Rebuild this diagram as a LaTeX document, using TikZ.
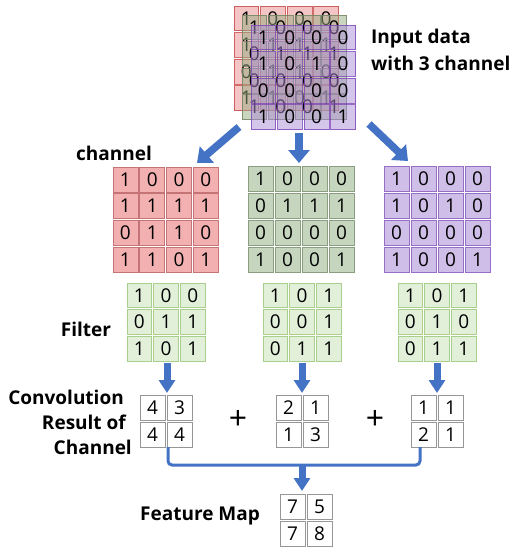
\documentclass[tikz,border=0pt]{standalone}
\usepackage{fontspec}
\setmainfont{Open Sans}
\usetikzlibrary{arrows.meta}
\definecolor{arrowblue}{RGB}{68,114,196}
\definecolor{redfill}{RGB}{242,176,176}
\definecolor{reddraw}{RGB}{196,116,116}
\definecolor{greenfill}{RGB}{198,214,190}
\definecolor{greendraw}{RGB}{138,158,128}
\definecolor{purplefill}{RGB}{206,190,232}
\definecolor{purpledraw}{RGB}{150,110,200}
\definecolor{filterfill}{RGB}{226,240,218}
\definecolor{filterdraw}{RGB}{168,208,140}
\definecolor{convdraw}{RGB}{150,150,150}
\definecolor{stackred}{RGB}{232,140,140}
\definecolor{stackreddraw}{RGB}{200,70,70}
\definecolor{stackgreen}{RGB}{150,172,130}
\definecolor{stackgreendraw}{RGB}{110,130,95}
\definecolor{stackpurple}{RGB}{170,140,215}
\definecolor{stackpurpledraw}{RGB}{125,70,185}
\newcommand\mygrid[6]{%
  \foreach \row [count=\i] in {#6} {
    \foreach \d [count=\j] in \row {
      \node[#5, minimum size={#4*1pt-1.8pt}] (#1-\i-\j) at ({#2+(\j-0.5)*#4},{#3+(\i-0.5)*#4}) {\d};
    }
  }
}
\tikzset{
  cellbase/.style={inner sep=0pt, line width=0.8pt, font=\fontsize{19}{20}\selectfont},
  redcell/.style={cellbase, fill=redfill, draw=reddraw},
  greencell/.style={cellbase, fill=greenfill, draw=greendraw},
  purplecell/.style={cellbase, fill=purplefill, draw=purpledraw},
  filtercell/.style={cellbase, fill=filterfill, draw=filterdraw},
  convcell/.style={cellbase, fill=white, draw=convdraw},
  sred/.style={cellbase, fill=stackred, fill opacity=0.5, text opacity=1, draw=stackreddraw, draw opacity=0.8},
  sgreen/.style={cellbase, fill=stackgreen, fill opacity=0.5, text opacity=1, draw=stackgreendraw, draw opacity=0.8},
  spurple/.style={cellbase, fill=stackpurple, fill opacity=0.5, text opacity=1, draw=stackpurpledraw, draw opacity=0.8},
  label/.style={font=\fontsize{19}{21}\bfseries\selectfont, inner sep=0pt},
  bigarrow/.style={draw=arrowblue, line width=7.5pt, -{Triangle[width=21pt,length=13pt]}, fill=arrowblue},
  midarrow/.style={draw=arrowblue, line width=7pt, -{Triangle[width=16pt,length=13pt]}, fill=arrowblue},
  bracket/.style={draw=arrowblue, line width=3pt, rounded corners=4pt},
  plus/.style={font=\fontsize{32}{34}\selectfont, inner sep=0pt},
}
\begin{document}
\begin{tikzpicture}[x=1pt,y=-1pt]
\useasboundingbox (0,0) rectangle (518,549);
% input stack
\mygrid{SR}{233}{5}{26.6}{sred}{{1,0,0,0},{1,1,1,1},{0,1,1,0},{1,1,0,1}}
\mygrid{SG}{241}{14}{26.6}{sgreen}{{1,0,0,0},{0,1,1,1},{0,0,0,0},{1,0,0,1}}
\mygrid{SP}{250}{24}{26.6}{spurple}{{1,0,0,0},{1,0,1,0},{0,0,0,0},{1,0,0,1}}
\node[label, anchor=west] (inp1) at (371,39) {Input data};
\node[label, anchor=west] (inp2) at (371,63) {with 3 channel};
% channels
\mygrid{R}{112}{166}{26.8}{redcell}{{1,0,0,0},{1,1,1,1},{0,1,1,0},{1,1,0,1}}
\mygrid{G}{247}{165}{27}{greencell}{{1,0,0,0},{0,1,1,1},{0,0,0,0},{1,0,0,1}}
\mygrid{P}{383}{165}{27}{purplecell}{{1,0,0,0},{1,0,1,0},{0,0,0,0},{1,0,0,1}}
\node[label] (chl) at (114,153) {channel};
% filters
\mygrid{F1}{126}{282}{26.7}{filtercell}{{1,0,0},{0,1,1},{1,0,1}}
\mygrid{F2}{262}{282}{26.7}{filtercell}{{1,0,1},{0,0,1},{0,1,1}}
\mygrid{F3}{397}{282}{26.7}{filtercell}{{1,0,1},{0,1,0},{0,1,1}}
\node[label] (fil) at (86,329) {Filter};
% convolution results
\mygrid{C1}{139}{394}{27}{convcell}{{4,3},{4,4}}
\mygrid{C2}{275}{394}{27}{convcell}{{2,1},{1,3}}
\mygrid{C3}{410}{394}{27}{convcell}{{1,1},{2,1}}
\node[label, anchor=east] (cv1) at (124,397) {Convolution};
\node[label, anchor=east] (cv2) at (126,422) {Result of};
\node[label, anchor=east] (cv3) at (132,447) {Channel};
\node[plus] (pl1) at (238,420) {+};
\node[plus] (pl2) at (375,420) {+};
% feature map
\mygrid{FM}{279}{493}{27}{convcell}{{7,5},{7,8}}
\node[label] (fmap) at (200,516) {Feature Map};
% arrows
\coordinate (a1s) at (239,127);
\coordinate (a1e) at (197,163);
\coordinate (a2s) at (299,133);
\coordinate (a2e) at (299,163);
\coordinate (a3s) at (369,124);
\coordinate (a3e) at (408,161);
\draw[bigarrow] (a1s) -- (a1e);
\draw[bigarrow] (a2s) -- (a2e);
\draw[bigarrow] (a3s) -- (a3e);
\coordinate (f1s) at (167,363);
\coordinate (f1e) at (167,393);
\coordinate (f2s) at (302,363);
\coordinate (f2e) at (302,393);
\coordinate (f3s) at (437,363);
\coordinate (f3e) at (437,393);
\draw[midarrow] (f1s) -- (f1e);
\draw[midarrow] (f2s) -- (f2e);
\draw[midarrow] (f3s) -- (f3e);
\coordinate (bl) at (168,447);
\coordinate (br) at (420,447);
\coordinate (bc) at (302,465);
\coordinate (fe) at (302,491);
\draw[bracket] (bl) -- (168,465) -- (420,465) -- (br);
\draw[midarrow] (bc) -- (fe);
\end{tikzpicture}
\end{document}
